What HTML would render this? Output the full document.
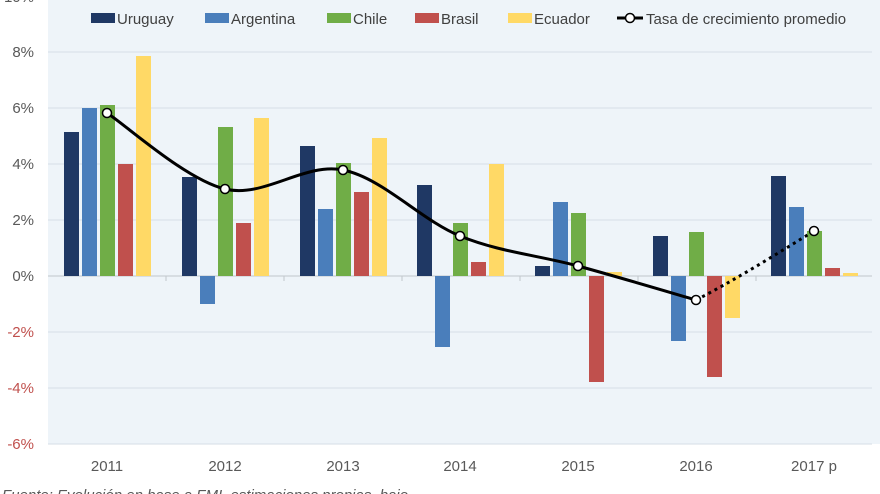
<!DOCTYPE html><html><head><meta charset="utf-8"><style>body{margin:0;background:#fff}svg{display:block;font-family:"Liberation Sans",sans-serif}</style></head><body>
<svg width="880" height="494" viewBox="0 0 880 494">
<rect x="48" y="0" width="832" height="444" fill="#eef4f9"/>
<g stroke="#d6dee6" stroke-width="1">
<line x1="48" y1="52" x2="872" y2="52"/><line x1="48" y1="108" x2="872" y2="108"/><line x1="48" y1="164" x2="872" y2="164"/><line x1="48" y1="220" x2="872" y2="220"/><line x1="48" y1="332" x2="872" y2="332"/><line x1="48" y1="388" x2="872" y2="388"/><line x1="48" y1="444" x2="872" y2="444"/>
</g>
<line x1="48" y1="276" x2="872" y2="276" stroke="#c0c6cc"/>
<g stroke="#c0c6cc"><line x1="166" y1="276" x2="166" y2="281"/><line x1="284" y1="276" x2="284" y2="281"/><line x1="402" y1="276" x2="402" y2="281"/><line x1="520" y1="276" x2="520" y2="281"/><line x1="638" y1="276" x2="638" y2="281"/><line x1="756" y1="276" x2="756" y2="281"/></g>
<g font-size="15" fill="#595959" text-anchor="end">
<text x="34" y="2">10%</text><text x="34" y="57">8%</text><text x="34" y="113">6%</text><text x="34" y="169">4%</text><text x="34" y="225">2%</text><text x="34" y="281">0%</text>
<g fill="#c0504d"><text x="34" y="337">-2%</text><text x="34" y="393">-4%</text><text x="34" y="449">-6%</text></g>
</g>
<g font-size="15" fill="#595959" text-anchor="middle">
<text x="107" y="471">2011</text><text x="225" y="471">2012</text><text x="343" y="471">2013</text><text x="460" y="471">2014</text><text x="578" y="471">2015</text><text x="696" y="471">2016</text><text x="814" y="471">2017 p</text>
</g>
<text x="2" y="500" font-size="15" font-style="italic" fill="#595959">Fuente: Evolución en base a FMI, estimaciones propias, bajo</text>
<g id="bars">
<!-- 2011 -->
<rect x="64" y="132" width="15" height="144" fill="#1f3864"/>
<rect x="82" y="108" width="15" height="168" fill="#4a7ebb"/>
<rect x="100" y="105" width="15" height="171" fill="#70ad47"/>
<rect x="118" y="164" width="15" height="112" fill="#c0504d"/>
<rect x="136" y="56" width="15" height="220" fill="#ffd966"/>
<!-- 2012 -->
<rect x="182" y="177" width="15" height="99" fill="#1f3864"/>
<rect x="200" y="276" width="15" height="28" fill="#4a7ebb"/>
<rect x="218" y="127" width="15" height="149" fill="#70ad47"/>
<rect x="236" y="223" width="15" height="53" fill="#c0504d"/>
<rect x="254" y="118" width="15" height="158" fill="#ffd966"/>
<!-- 2013 -->
<rect x="300" y="146" width="15" height="130" fill="#1f3864"/>
<rect x="318" y="209" width="15" height="67" fill="#4a7ebb"/>
<rect x="336" y="163" width="15" height="113" fill="#70ad47"/>
<rect x="354" y="192" width="15" height="84" fill="#c0504d"/>
<rect x="372" y="138" width="15" height="138" fill="#ffd966"/>
<!-- 2014 -->
<rect x="417" y="185" width="15" height="91" fill="#1f3864"/>
<rect x="435" y="276" width="15" height="71" fill="#4a7ebb"/>
<rect x="453" y="223" width="15" height="53" fill="#70ad47"/>
<rect x="471" y="262" width="15" height="14" fill="#c0504d"/>
<rect x="489" y="164" width="15" height="112" fill="#ffd966"/>
<!-- 2015 -->
<rect x="535" y="266" width="15" height="10" fill="#1f3864"/>
<rect x="553" y="202" width="15" height="74" fill="#4a7ebb"/>
<rect x="571" y="213" width="15" height="63" fill="#70ad47"/>
<rect x="589" y="276" width="15" height="106" fill="#c0504d"/>
<rect x="607" y="272" width="15" height="4" fill="#ffd966"/>
<!-- 2016 -->
<rect x="653" y="236" width="15" height="40" fill="#1f3864"/>
<rect x="671" y="276" width="15" height="65" fill="#4a7ebb"/>
<rect x="689" y="232" width="15" height="44" fill="#70ad47"/>
<rect x="707" y="276" width="15" height="101" fill="#c0504d"/>
<rect x="725" y="276" width="15" height="42" fill="#ffd966"/>
<!-- 2017 -->
<rect x="771" y="176" width="15" height="100" fill="#1f3864"/>
<rect x="789" y="207" width="15" height="69" fill="#4a7ebb"/>
<rect x="807" y="231" width="15" height="45" fill="#70ad47"/>
<rect x="825" y="268" width="15" height="8" fill="#c0504d"/>
<rect x="843" y="273" width="15" height="3" fill="#ffd966"/>
</g>
<path d="M107,113 C126.7,125.7 185.7,179.5 225,189 C264.3,198.5 303.8,162.2 343,170 C382.2,177.8 420.8,220 460,236 C499.2,252 538.7,255.3 578,266 C617.3,276.7 676.3,294.3 696,300" fill="none" stroke="#000" stroke-width="3"/>
<path d="M696,300 C735,280 775,255 814,231" fill="none" stroke="#000" stroke-width="3" stroke-dasharray="3,4"/>
<g fill="#fff" stroke="#000" stroke-width="1.5">
<circle cx="107" cy="113" r="4.5"/><circle cx="225" cy="189" r="4.5"/><circle cx="343" cy="170" r="4.5"/><circle cx="460" cy="236" r="4.5"/><circle cx="578" cy="266" r="4.5"/><circle cx="696" cy="300" r="4.5"/><circle cx="814" cy="231" r="4.5"/>
</g>
<g font-size="15" fill="#404040">
<rect x="91" y="13" width="24" height="10" fill="#1f3864"/><text x="117" y="24">Uruguay</text>
<rect x="205" y="13" width="24" height="10" fill="#4a7ebb"/><text x="231" y="24">Argentina</text>
<rect x="327" y="13" width="24" height="10" fill="#70ad47"/><text x="353" y="24">Chile</text>
<rect x="415" y="13" width="24" height="10" fill="#c0504d"/><text x="441" y="24">Brasil</text>
<rect x="508" y="13" width="24" height="10" fill="#ffd966"/><text x="534" y="24">Ecuador</text>
<line x1="617" y1="18" x2="643" y2="18" stroke="#000" stroke-width="3"/><circle cx="630" cy="18" r="4.5" fill="#fff" stroke="#000" stroke-width="1.5"/>
<text x="646" y="24">Tasa de crecimiento promedio</text>
</g>
</svg>
</body></html>
